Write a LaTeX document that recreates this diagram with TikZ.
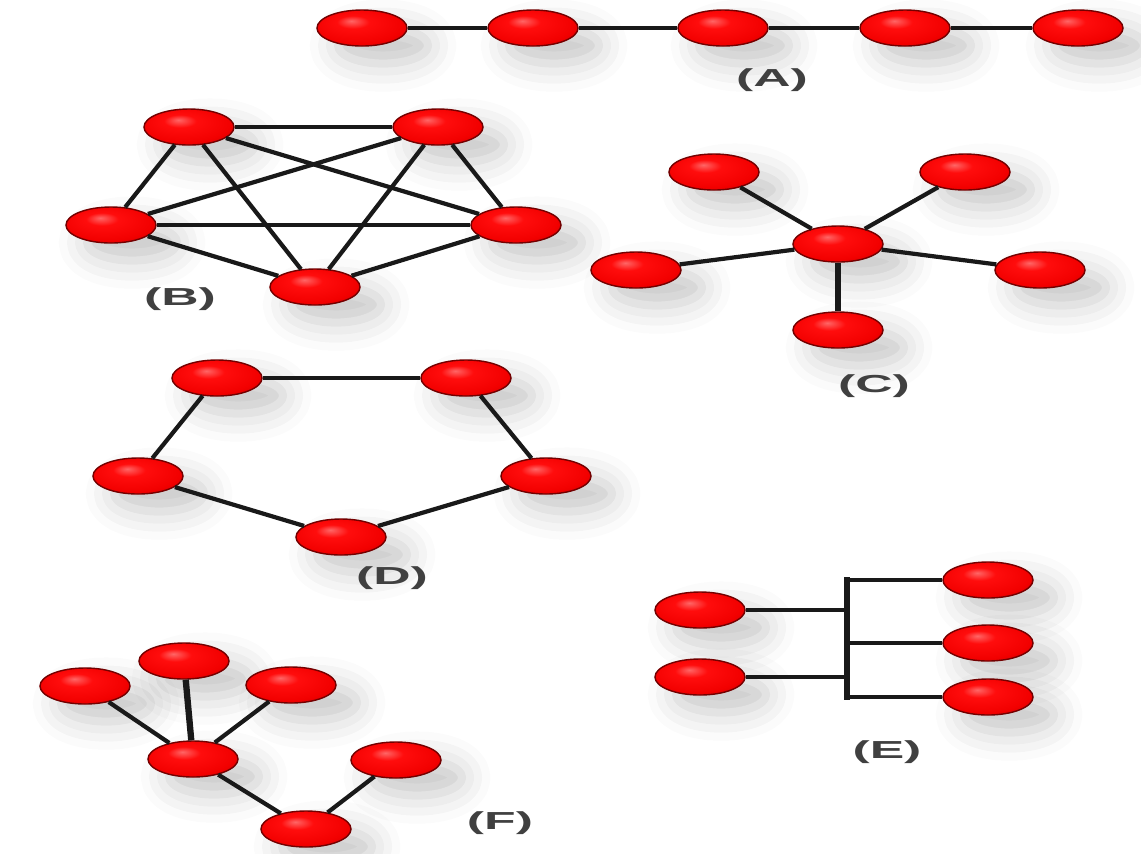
\documentclass[tikz,border=0pt]{standalone}
\usepackage{fontspec}
\setmainfont{Liberation Sans}
\usetikzlibrary{shapes.geometric,shadows.blur}
\pgfdeclareradialshading{redball}{\pgfpoint{-6bp}{10bp}}{color(0bp)=(red!60!white); color(9bp)=(red!95!white); color(26bp)=(red!95!black); color(40bp)=(red!72!black); color(50bp)=(red!50!black)}
\tikzset{
  vertex/.style={ellipse,shading=redball,draw=red!45!black,line width=0.4pt,minimum width=0.9cm,minimum height=0.36cm,inner sep=0pt,
    blur shadow={shadow xshift=6pt,shadow yshift=-5pt,shadow blur radius=8pt,shadow opacity=22}},
  edge/.style={line width=1.2pt,black!90},
  thickedge/.style={line width=1.8pt,black!90},
  caption/.style={font=\bfseries\fontsize{7pt}{7pt}\selectfont,text=black!75,xscale=2.1}
}
\begin{document}
\begin{tikzpicture}[x=0.01cm,y=-0.01cm]
            \useasboundingbox (0,0) rectangle (1141,853);

            \node[vertex] (a1) at (362,28) {};
            \node[vertex] (a2) at (533,28) {};
            \node[vertex] (a3) at (723,28) {};
            \node[vertex] (a4) at (905,28) {};
            \node[vertex] (a5) at (1078,28) {};
            \node[caption] (labA) at (772,80) {(A)};

            \node[vertex] (b1) at (189,127) {};
            \node[vertex] (b2) at (438,127) {};
            \node[vertex] (b3) at (111,225) {};
            \node[vertex] (b4) at (516,225) {};
            \node[vertex] (b5) at (315,287) {};
            \node[caption] (labB) at (180,299) {(B)};

            \node[vertex] (c0) at (838,244) {};
            \node[vertex] (c1) at (714,172) {};
            \node[vertex] (c2) at (965,172) {};
            \node[vertex] (c3) at (636,270) {};
            \node[vertex] (c4) at (1040,270) {};
            \node[vertex] (c5) at (838,330) {};
            \node[caption] (labC) at (874,386) {(C)};

            \node[vertex] (d1) at (217,378) {};
            \node[vertex] (d2) at (466,378) {};
            \node[vertex] (d3) at (138,476) {};
            \node[vertex] (d4) at (546,476) {};
            \node[vertex] (d5) at (341,537) {};
            \node[caption] (labD) at (392,578) {(D)};

            \node[vertex] (e1) at (700,610) {};
            \node[vertex] (e2) at (700,677) {};
            \node[vertex] (e3) at (988,580) {};
            \node[vertex] (e4) at (988,643) {};
            \node[vertex] (e5) at (988,697) {};
            \coordinate (busTop) at (847,577);
            \coordinate (busBot) at (847,700);
            \node[caption] (labE) at (887,752) {(E)};

            \node[vertex] (f0) at (193,759) {};
            \node[vertex] (f1) at (85,686) {};
            \node[vertex] (f2) at (184,661) {};
            \node[vertex] (f3) at (291,685) {};
            \node[vertex] (f4) at (396,760) {};
            \node[vertex] (f5) at (306,829) {};
            \node[caption] (labF) at (500,823) {(F)};

            \draw[edge] (a1) to (a2); \draw[edge] (a2) to (a3); \draw[edge] (a3) to (a4); \draw[edge] (a4) to (a5);
            \draw[edge] (b1) to (b2); \draw[edge] (b1) to (b3); \draw[edge] (b1) to (b4); \draw[edge] (b1) to (b5);
            \draw[edge] (b2) to (b3); \draw[edge] (b2) to (b4); \draw[edge] (b2) to (b5);
            \draw[edge] (b3) to (b4); \draw[edge] (b3) to (b5); \draw[edge] (b4) to (b5);
            \draw[edge] (c0) to (c1); \draw[edge] (c0) to (c2); \draw[edge] (c0) to (c3); \draw[edge] (c0) to (c4); \draw[thickedge] (c0) to (c5);
            \draw[edge] (d1) to (d2); \draw[edge] (d2) to (d4); \draw[edge] (d4) to (d5); \draw[edge] (d5) to (d3); \draw[edge] (d3) to (d1);
            \draw[thickedge] (busTop) to (busBot);
            \draw[edge] (e1) to (e1 -| busTop); \draw[edge] (e2) to (e2 -| busTop);
            \draw[edge] (e3) to (e3 -| busTop); \draw[edge] (e4) to (e4 -| busTop); \draw[edge] (e5) to (e5 -| busTop);
            \draw[edge] (f0) to (f1); \draw[thickedge] (f0) to (f2); \draw[edge] (f0) to (f3); \draw[edge] (f0) to (f5); \draw[edge] (f5) to (f4);
        \end{tikzpicture}
\end{document}
